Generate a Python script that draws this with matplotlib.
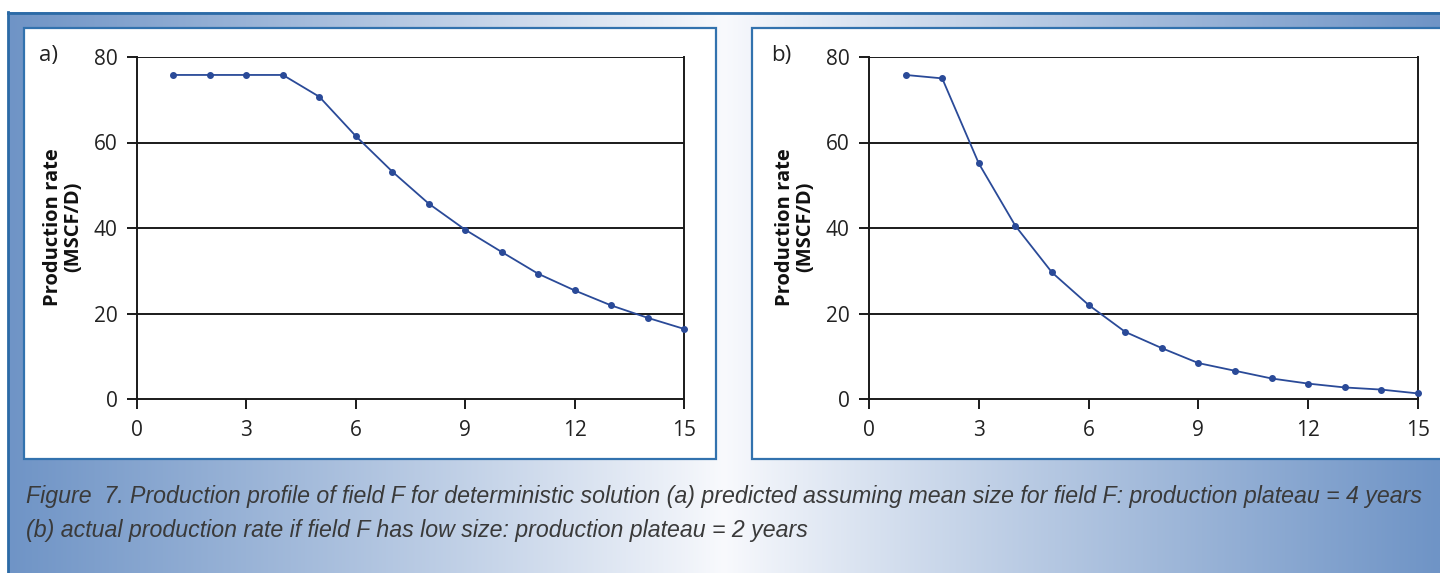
import numpy as np
import matplotlib
matplotlib.use("Agg")
import matplotlib.pyplot as plt
from matplotlib.patches import Rectangle
from matplotlib.colors import to_rgb

# ---- data ----
years = [1, 2, 3, 4, 5, 6, 7, 8, 9, 10, 11, 12, 13, 14, 15]
rate_a = [75.8, 75.8, 75.8, 75.8, 70.7, 61.5, 53.2, 45.7, 39.6, 34.4, 29.3, 25.4, 21.9, 19.0, 16.4]
rate_b = [75.8, 75.0, 55.1, 40.5, 29.6, 22.0, 15.7, 11.9, 8.4, 6.6, 4.8, 3.6, 2.7, 2.2, 1.3]
xticks = [0, 3, 6, 9, 12, 15]
yticks = [0, 20, 40, 60, 80]
panel_labels = ["a)", "b)"]
ylabel = "Production rate\n(MSCF/D)"
caption = ["Figure  7. Production profile of field F for deterministic solution (a) predicted assuming mean size for field F: production plateau = 4 years",
           "(b) actual production rate if field F has low size: production plateau = 2 years"]

W, H = 1440, 573
fig = plt.figure(figsize=(W / 100, H / 100), dpi=100)

# background axes in pixel coords
bg = fig.add_axes([0, 0, 1, 1])
bg.set_xlim(0, W)
bg.set_ylim(H, 0)
bg.axis("off")

edge = np.array(to_rgb("#6f94c6"))
center = np.array(to_rgb("#f9fafd"))
xs = np.linspace(0, 1, 720)
t = np.abs(xs - 0.5) / 0.5
t = t ** 0.9
grad = center[None, :] * (1 - t[:, None]) + edge[None, :] * t[:, None]
img = np.tile(grad[None, :, :], (2, 1, 1))
bg.imshow(img, extent=[8, W, H, 12], aspect="auto", zorder=0, interpolation="bilinear")
bg.plot([8, W], [12.5, 12.5], color="#2b6aa6", lw=2, zorder=2)
bg.plot([7.5, 7.5], [12, H], color="#2b6aa6", lw=2, zorder=2)

for x0, x1 in [(24, 716), (752, 1446)]:
    bg.add_patch(Rectangle((x0, 28), x1 - x0, 459 - 28, facecolor="white",
                           edgecolor="#3272ae", lw=1.6, zorder=3))

bg.text(39, 55, panel_labels[0], fontsize=16, family="Open Sans", ha="left", va="center", color="#222222", zorder=4)
bg.text(771, 55, panel_labels[1], fontsize=16, family="Open Sans", ha="left", va="center", color="#222222", zorder=4)

bg.text(26, 497, caption[0], fontsize=16.7, family="Liberation Sans", style="italic",
        color="#3a3a3a", ha="left", va="center", zorder=4)
bg.text(26, 530, caption[1], fontsize=16.7, family="Liberation Sans", style="italic",
        color="#3a3a3a", ha="left", va="center", zorder=4)

line_color = "#2a4a98"
axes_pos = [(137, 684), (869, 1418)]
ytop, ybot = 57, 399
for (xl, xr), data, ylx in zip(axes_pos, [rate_a, rate_b], [63, 795]):
    ax = fig.add_axes([xl / W, (H - ybot) / H, (xr - xl) / W, (ybot - ytop) / H])
    ax.set_zorder(5)
    ax.patch.set_alpha(0)
    ax.plot(years, data, color=line_color, lw=1.3, marker="o", ms=4, clip_on=False, zorder=5)
    ax.set_xlim(0, 15)
    ax.set_ylim(0, 80)
    ax.set_xticks(xticks)
    ax.set_yticks(yticks)
    for y in yticks[1:]:
        ax.axhline(y, color="#1a1a1a", lw=1.4, zorder=1)
    for s in ["left", "bottom", "right"]:
        ax.spines[s].set_color("#1a1a1a")
        ax.spines[s].set_linewidth(1.4)
    ax.spines["top"].set_visible(False)
    ax.tick_params(direction="out", length=7, width=1.4, color="#1a1a1a",
                   labelsize=15, pad=7, labelcolor="#222222")
    for lab in ax.get_xticklabels() + ax.get_yticklabels():
        lab.set_family("Open Sans")
    ax.tick_params(axis="x", pad=8)
    bg.text(ylx, 227, ylabel, rotation=90, fontsize=14.5, family="Open Sans", weight="bold",
            ha="center", va="center", ma="center", color="#111111", zorder=4, linespacing=1.0)

fig.savefig("out.png", dpi=100)
